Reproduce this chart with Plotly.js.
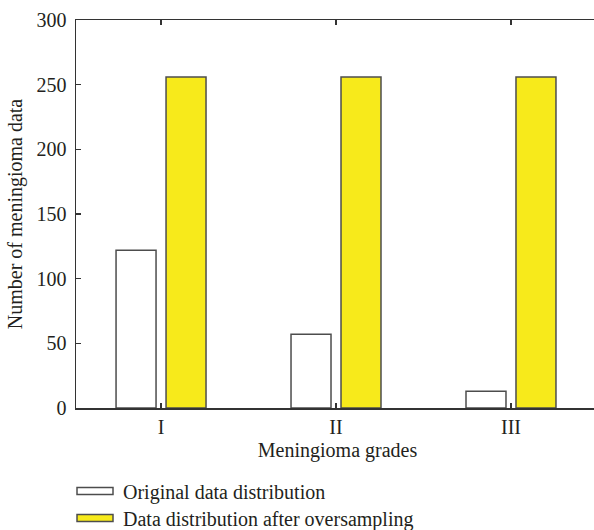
<!DOCTYPE html>
<html>
<head>
<meta charset="utf-8">
<script src="https://cdn.plot.ly/plotly-3.0.1.min.js"></script>
<style>
html,body{margin:0;padding:0;overflow:hidden;background:#fff;}
#chart{width:600px;height:530px;}
</style>
</head>
<body>
<div id="chart"></div>
<script>
var categories = ['I', 'II', 'III'];
var originalValues = [122, 57, 13];
var oversampledValues = [256, 256, 256];
var seriesNames = ['Original data distribution', 'Data distribution after oversampling'];
var yTicks = [0, 50, 100, 150, 200, 250, 300];

var FONT = 'Liberation Serif, Times New Roman, serif';
var INK = '#231f20';
var EDGE = '#4d4d4d';

var traces = [
  {
    type: 'bar', x: categories, y: originalValues, name: seriesNames[0],
    marker: {color: '#ffffff', line: {color: EDGE, width: 1.5}},
    legend: 'legend'
  },
  {
    type: 'bar', x: categories, y: oversampledValues, name: seriesNames[1],
    marker: {color: '#f7ea1b', line: {color: EDGE, width: 1.5}},
    legend: 'legend2'
  }
];

var layout = {
  width: 600, height: 530,
  margin: {l: 76, r: 1, t: 20, b: 122, autoexpand: false},
  paper_bgcolor: '#fff', plot_bgcolor: '#fff',
  font: {family: FONT, size: 20, color: INK},
  barmode: 'group', bargap: 0.4286, bargroupgap: 0.2,
  showlegend: true,
  xaxis: {
    type: 'category', range: [-0.486, 2.503],
    showline: true, linecolor: '#333', linewidth: 1.5, mirror: 'ticks',
    ticks: 'inside', ticklen: 5, tickcolor: '#333', tickwidth: 1.5,
    tickfont: {family: FONT, size: 20, color: INK},
    title: {text: 'Meningioma grades', font: {family: FONT, size: 20, color: INK}, standoff: 6},
    showgrid: false, zeroline: false, fixedrange: true
  },
  yaxis: {
    range: [0, 300], tickvals: yTicks, ticktext: yTicks.map(String),
    showline: true, linecolor: '#333', linewidth: 1.5, mirror: 'ticks',
    ticks: 'inside', ticklen: 5, tickcolor: '#333', tickwidth: 1.5,
    ticklabelstandoff: 4,
    tickfont: {family: FONT, size: 20, color: INK},
    title: {text: 'Number of meningioma data', font: {family: FONT, size: 20, color: INK}, standoff: 8},
    showgrid: false, zeroline: false, fixedrange: true
  },
  legend: {
    x: -0.0172, y: 0, xref: 'paper', yref: 'paper', xanchor: 'left', yanchor: 'middle',
    bgcolor: 'rgba(0,0,0,0)', font: {family: FONT, size: 20, color: INK}, itemwidth: 46
  },
  legend2: {
    x: -0.0172, y: 0, xref: 'paper', yref: 'paper', xanchor: 'left', yanchor: 'middle',
    bgcolor: 'rgba(0,0,0,0)', font: {family: FONT, size: 20, color: INK}, itemwidth: 46
  }
};

// legend y positions: convert pixel centers to paper fractions
var plotH = layout.height - layout.margin.t - layout.margin.b;
function pyToPaper(py) { return (layout.height - layout.margin.b - py) / plotH; }
layout.legend.y = pyToPaper(491);
layout.legend2.y = pyToPaper(518);

Plotly.newPlot('chart', traces, layout, {displayModeBar: false, staticPlot: true}).then(function (gd) {
  var paths = gd.querySelectorAll('.legendpoints path');
  paths.forEach(function (p) { p.setAttribute('d', 'M18,3.5H-18V-3.5H18Z'); });
});
</script>
</body>
</html>
